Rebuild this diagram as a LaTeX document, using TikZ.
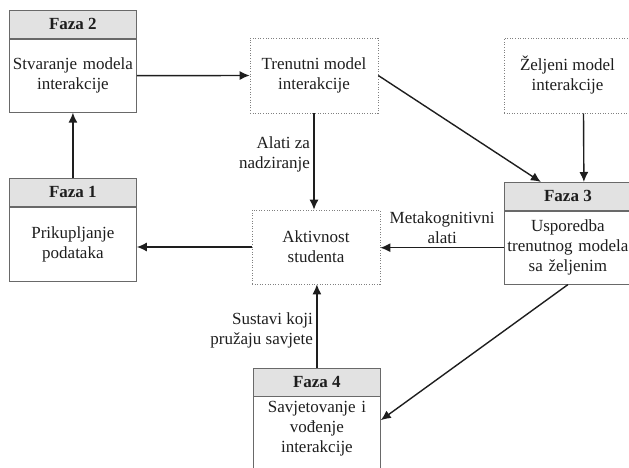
\documentclass[tikz,border=0pt]{standalone}
\usepackage{fontspec}
\setmainfont{Liberation Serif}
\usetikzlibrary{arrows.meta,positioning}
\definecolor{linegray}{RGB}{105,105,105}
\definecolor{headgray}{RGB}{226,226,226}
\definecolor{ink}{RGB}{30,30,30}
\begin{document}
\begin{tikzpicture}[x=1pt,y=-1pt,
    every node/.style={font=\fontsize{17}{20}\selectfont, text=ink},
    head/.style={draw=linegray, fill=headgray, line width=0.8pt, anchor=north west,
      minimum width=127pt, minimum height=28pt, inner sep=0pt,
      font=\fontsize{17}{20}\selectfont\bfseries},
    body/.style={draw=linegray, line width=0.8pt, text width=127pt, align=center,
      inner sep=0pt, minimum height=73pt, below=0pt of #1},
    model/.style={draw=gray, dash pattern=on 0.8pt off 1.8pt, line width=0.6pt,
      minimum width=128pt, minimum height=75pt, align=center, inner sep=0pt},
    arr/.style={draw=ink, line width=1.4pt, -{Latex[length=10pt,width=9pt]}}]
    \useasboundingbox (0,0) rectangle (629,468);
    \clip (0,0) rectangle (629,468);

    % phases
    \node[head] (f2h) at (9,10) {Faza 2};
    \node[body=f2h] (f2) {Stvaranje modela\\interakcije};
    \node[head] (f1h) at (9,178) {Faza 1};
    \node[body=f1h, minimum height=74pt] (f1) {Prikupljanje\\podataka};
    \node[head] (f3h) at (504,182) {Faza 3};
    \node[body=f3h] (f3) {Usporedba\\trenutnog modela\\sa željenim};
    \node[head] (f4h) at (253,368) {Faza 4};
    \node[body=f4h, draw=none, minimum height=62pt] (f4) {Savjetovanje i\\vođenje\\interakcije};
    \draw[linegray, line width=0.8pt] (f4h.south west) -- ++(0,120) (f4h.south east) -- ++(0,120);

    % models and activity
    \node[model] (trm) at (314,75.5) {Trenutni model\\interakcije};
    \node[model, minimum width=127pt] (zel) at (567.5,75.5) {Željeni model\\interakcije};
    \node[model, minimum height=74pt] (akt) at (316,247) {Aktivnost\\studenta};

    \draw[arr] (f1h.north) -- (f2.south);
    \draw[arr] (f2.east) -- (trm.west);
    \draw[arr] (trm.south) -- (trm.south |- akt.north) node[left, pos=0.43, align=right] {Alati za\\nadziranje};
    \draw[arr] (trm.east) -- ([xshift=-27pt]f3h.north);
    \draw[arr] ([xshift=16pt]zel.south) -- ([xshift=16pt]f3h.north);
    \draw[arr] (f3.west) -- (f3.west -| akt.east) node[midway, above, align=center] {Metakognitivni\\alati};
    \draw[arr] (akt.west) -- (akt.west -| f1.east);
    \draw[arr] (f4h.north) -- (f4h.north |- akt.south) node[left, pos=0.45, align=right] {Sustavi koji\\pružaju savjete};
    \draw[arr] (f3.south) -- ([yshift=8pt]f4.east);
\end{tikzpicture}
\end{document}
